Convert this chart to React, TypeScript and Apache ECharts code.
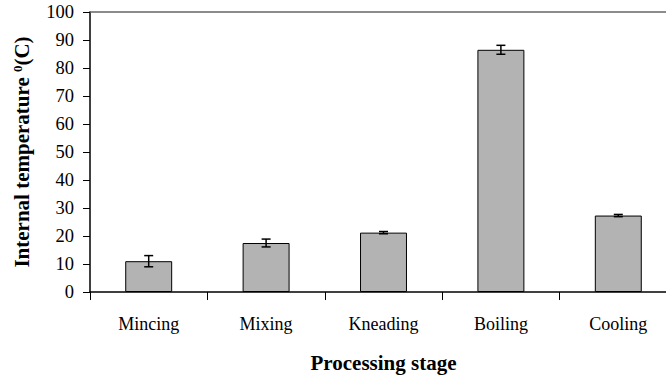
import React, { useEffect, useRef } from "react";
import * as echarts from "echarts";

const categories = ["Mincing", "Mixing", "Kneading", "Boiling", "Cooling"];
const meanTemps = [11.0, 17.5, 21.2, 86.5, 27.3];
const errTemps = [2.0, 1.4, 0.4, 1.6, 0.4];
const yTicks = { min: 0, max: 100, interval: 10 };

const FONT = "Times New Roman, Liberation Serif, serif";

export default function App() {
  const ref = useRef<HTMLDivElement>(null);
  useEffect(() => {
    document.body.style.margin = "0";
    const chart = echarts.init(ref.current!, null, { renderer: "svg" });
    const errData = meanTemps.map((m, i) => [i, m - errTemps[i], m + errTemps[i]]);
    chart.setOption({
      animation: false,
      backgroundColor: "#ffffff",
      textStyle: { fontFamily: FONT },
      grid: { left: 90, right: 3, top: 12, bottom: 86 },
      xAxis: [
        {
          type: "category",
          data: categories,
          name: "Processing stage",
          nameLocation: "middle",
          nameGap: 60,
          nameTextStyle: { fontFamily: FONT, fontSize: 21, fontWeight: "bold", color: "#000" },
          axisLine: { lineStyle: { color: "#000", width: 1.5 } },
          axisTick: { show: true, length: 8, lineStyle: { color: "#000", width: 1 } },
          axisLabel: { fontFamily: FONT, fontSize: 18, color: "#000", margin: 23 },
        },
        {
          type: "category",
          position: "top",
          data: categories,
          axisLine: { show: true, lineStyle: { color: "#666", width: 1.5 } },
          axisTick: { show: false },
          axisLabel: { show: false },
        },
      ],
      yAxis: {
        type: "value",
        min: yTicks.min,
        max: yTicks.max,
        interval: yTicks.interval,
        name: "Internal temperature {sup|0}(C)",
        nameLocation: "middle",
        nameRotate: 90,
        nameGap: 58,
        nameTextStyle: {
          fontFamily: FONT,
          fontSize: 21,
          fontWeight: "bold",
          color: "#000",
          rich: {
            sup: { fontFamily: FONT, fontSize: 13, fontWeight: "bold", color: "#000", verticalAlign: "top" },
          },
        },
        axisLine: { show: true, lineStyle: { color: "#000", width: 1.5 } },
        axisTick: { show: true, length: 7, lineStyle: { color: "#000", width: 1 } },
        axisLabel: { fontFamily: FONT, fontSize: 18.5, color: "#000", margin: 16 },
        splitLine: { show: false },
      },
      series: [
        {
          type: "bar",
          data: meanTemps,
          barWidth: "40%",
          itemStyle: { color: "#b3b3b3", borderColor: "#000", borderWidth: 1 },
        },
        {
          type: "custom",
          data: errData,
          z: 10,
          renderItem: (params: any, api: any) => {
            const x = api.value(0);
            const lo = api.coord([x, api.value(1)]);
            const hi = api.coord([x, api.value(2)]);
            const cw = 4.5;
            const style = { stroke: "#000", lineWidth: 1.5 };
            return {
              type: "group",
              children: [
                { type: "line", shape: { x1: lo[0], y1: lo[1], x2: hi[0], y2: hi[1] }, style },
                { type: "line", shape: { x1: hi[0] - cw, y1: hi[1], x2: hi[0] + cw, y2: hi[1] }, style },
                { type: "line", shape: { x1: lo[0] - cw, y1: lo[1], x2: lo[0] + cw, y2: lo[1] }, style },
              ],
            };
          },
        },
      ],
    });
    return () => chart.dispose();
  }, []);
  return (
    <div style={{ position: "fixed", left: 0, top: 0, width: 666, height: 378, overflow: "hidden", background: "#fff" }}>
      <div ref={ref} style={{ width: 680, height: 378 }} />
    </div>
  );
}
